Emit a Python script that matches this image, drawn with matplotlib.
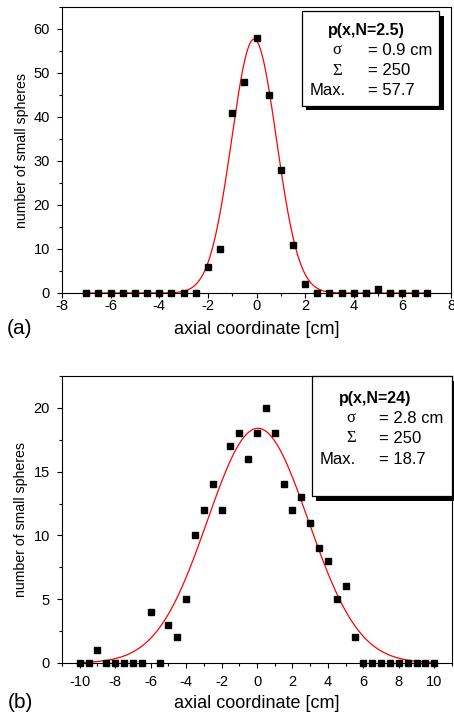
import numpy as np
import matplotlib
matplotlib.use("Agg")
import matplotlib.pyplot as plt
from matplotlib.patches import Rectangle
from matplotlib.ticker import MultipleLocator

plt.rcParams['font.family'] = ['Liberation Sans', 'DejaVu Sans']

# ---------------- data ----------------
# panel (a): N = 2.5
xa = np.arange(-7.0, 7.01, 0.5)
ya = [0, 0, 0, 0, 0, 0, 0, 0, 0, 0,   # -7 .. -2.5
      6, 10, 41, 48, 58, 45, 28, 11, 2,  # -2 .. 2
      0, 0, 0, 0, 0, 1, 0, 0, 0, 0]      # 2.5 .. 7
fit_a = dict(amp=57.7, mu=-0.1, sigma=0.92)
legend_a = ("p(x,N=2.5)", ["σ", "Σ", "Max."], ["= 0.9 cm", "= 250", "= 57.7"])

# panel (b): N = 24
xb = np.arange(-10.0, 10.01, 0.5)
yb = [0, 0, 1, 0, 0, 0, 0, 0, 4, 0,      # -10 .. -5.5
      3, 2, 5, 10, 12, 14, 12, 17, 18, 16,  # -5 .. -0.5
      18, 20, 18, 14, 12, 13, 11, 9, 8, 5,  # 0 .. 4.5
      6, 2, 0, 0, 0, 0, 0, 0, 0, 0, 0]      # 5 .. 10
fit_b = dict(amp=18.4, mu=0.05, sigma=2.85)
legend_b = ("p(x,N=24)", ["σ", "Σ", "Max."], ["= 2.8 cm", "= 250", "= 18.7"])

W, H = 454, 717
fig = plt.figure(figsize=(W / 100, H / 100), dpi=100)

TICK_FS = 10.5
XLAB_FS = 13
YLAB_FS = 10.2
LEG_FS = 12
TITLE_FS = 11.5
PANEL_FS = 15


def fx(px):
    return px / W


def fy(py):
    return 1 - py / H


def make_axes(left, right, top, bottom):
    return fig.add_axes([fx(left), fy(bottom), fx(right) - fx(left), (bottom - top) / H])


def style(ax, xlim, ylim, xmaj, xmin, ymaj, ymin, xpad):
    ax.set_xlim(*xlim)
    ax.set_ylim(*ylim)
    ax.xaxis.set_major_locator(MultipleLocator(xmaj))
    ax.xaxis.set_minor_locator(MultipleLocator(xmin))
    ax.yaxis.set_major_locator(MultipleLocator(ymaj))
    ax.yaxis.set_minor_locator(MultipleLocator(ymin))
    ax.tick_params(which='both', direction='out', top=False, right=False, width=0.8, colors='black')
    ax.tick_params(which='major', length=3.8, labelsize=TICK_FS)
    ax.tick_params(which='minor', length=2.0)
    ax.tick_params(axis='x', which='major', pad=xpad)
    ax.tick_params(axis='y', which='major', pad=5)
    for s in ax.spines.values():
        s.set_linewidth(0.8)
    ax.xaxis.set_major_formatter(matplotlib.ticker.FuncFormatter(lambda v, p: f"{v:g}"))
    ax.yaxis.set_major_formatter(matplotlib.ticker.FuncFormatter(lambda v, p: f"{v:g}"))


def legend_box(left, top, right, bottom, content, title_cx, sym_cx, val_x, max_x, rows_y, title_y):
    sh = 4.5
    fig.patches.append(Rectangle((fx(left + sh), fy(bottom + sh)), fx(right) - fx(left), (bottom - top) / H,
                                 transform=fig.transFigure, facecolor='black', edgecolor='none', zorder=10))
    fig.patches.append(Rectangle((fx(left), fy(bottom)), fx(right) - fx(left), (bottom - top) / H,
                                 transform=fig.transFigure, facecolor='white', edgecolor='black',
                                 linewidth=0.9, zorder=11))
    title, syms, vals = content
    fig.text(fx(title_cx), fy(title_y), title, ha='center', va='center', fontsize=TITLE_FS,
             fontweight='bold', zorder=12)
    for i, (s, v) in enumerate(zip(syms, vals)):
        y = fy(rows_y[i])
        if s == "Max.":
            fig.text(fx(max_x), y, s, ha='left', va='center', fontsize=LEG_FS, zorder=12)
        else:
            fig.text(fx(sym_cx), y, s, ha='center', va='center', fontsize=LEG_FS,
                     family=['Liberation Serif', 'DejaVu Serif'], zorder=12)
        fig.text(fx(val_x), y, v, ha='left', va='center', fontsize=LEG_FS, zorder=12)


def gauss(x, p):
    return p['amp'] * np.exp(-(x - p['mu']) ** 2 / (2 * p['sigma'] ** 2))


# ---------------- panel (a) ----------------
axa = make_axes(62, 451, 7, 293)
style(axa, (-8, 8), (0, 65), 2, 1, 10, 5, xpad=0.5)
xx = np.linspace(xa[0], xa[-1], 600)
axa.plot(xx, gauss(xx, fit_a), color='red', lw=0.9, zorder=2)
axa.plot(xa, ya, 's', color='black', ms=3.8, zorder=3, clip_on=False)
axa.set_xlabel("axial coordinate [cm]", fontsize=XLAB_FS)
axa.set_ylabel("number of small spheres", fontsize=YLAB_FS)
axa.xaxis.set_label_coords(0.5, -(330 - 293) / 286)
axa.xaxis.label.set_va('center')
axa.yaxis.set_label_coords(-(62 - 21.5) / 389, 0.5)
axa.yaxis.label.set_va('center')
fig.text(fx(20), fy(328), "(a)", ha='center', va='center', fontsize=PANEL_FS)
legend_box(301.7, 11, 439, 105.7, legend_a, title_cx=366.7, sym_cx=337.3, val_x=368.3,
           max_x=309.3, rows_y=[50.5, 70.7, 90.7], title_y=30)

# ---------------- panel (b) ----------------
axb = make_axes(62, 452, 376, 663)
style(axb, (-11, 11), (0, 22.5), 2, 1, 5, 2.5, xpad=4.5)
xx = np.linspace(xb[0], xb[-1], 800)
axb.plot(xx, gauss(xx, fit_b), color='red', lw=0.9, zorder=2)
axb.plot(xb, yb, 's', color='black', ms=3.8, zorder=3, clip_on=False)
axb.set_xlabel("axial coordinate [cm]", fontsize=XLAB_FS)
axb.set_ylabel("number of small spheres", fontsize=YLAB_FS)
axb.xaxis.set_label_coords(0.5, -(704 - 663) / 287)
axb.xaxis.label.set_va('center')
axb.yaxis.set_label_coords(-(62 - 21.5) / 390, 0.5)
axb.yaxis.label.set_va('center')
fig.text(fx(20), fy(703), "(b)", ha='center', va='center', fontsize=PANEL_FS)
legend_box(311.7, 376, 452, 496, legend_b, title_cx=375, sym_cx=351, val_x=379.3,
           max_x=320, rows_y=[418.3, 438.5, 459.3], title_y=398.3)

fig.savefig("out.png", dpi=100)
